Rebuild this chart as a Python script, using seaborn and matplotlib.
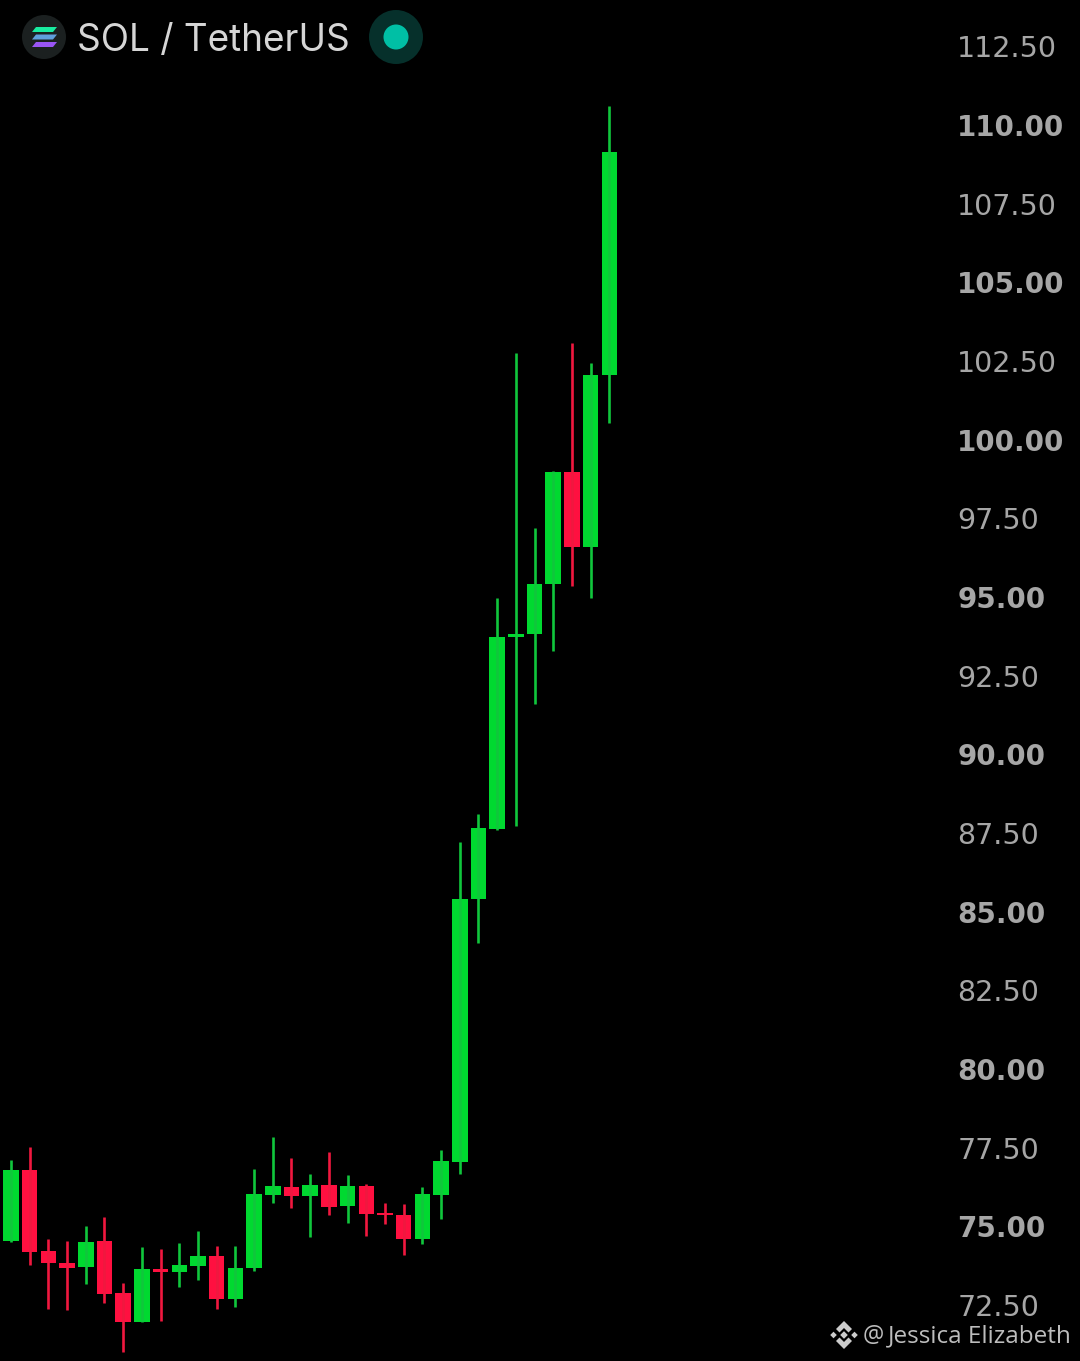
import matplotlib
matplotlib.use("Agg")
import matplotlib.pyplot as plt
from matplotlib.patches import Circle, Polygon
import numpy as np
import pandas as pd
import seaborn as sns

# candles, oldest first
opens = [74.53, 76.78, 74.23, 73.82, 73.70, 74.53, 72.88, 71.95, 73.65, 73.56, 73.75,
         74.05, 72.70, 73.67, 76.00, 76.25, 75.97, 76.31, 75.64, 76.28, 75.42, 75.37,
         74.61, 76.00, 77.04, 85.40, 87.63, 93.73, 93.82, 95.41, 98.97, 96.59, 102.05]
closes = [76.78, 74.19, 73.82, 73.68, 74.51, 72.86, 71.95, 73.63, 73.55, 73.77, 74.05,
          72.70, 73.68, 76.03, 76.29, 75.97, 76.31, 75.61, 76.28, 75.39, 75.36, 74.61,
          76.03, 77.07, 85.40, 87.66, 93.73, 93.82, 95.41, 98.97, 96.59, 102.05, 109.14]
highs = [77.11, 77.51, 74.60, 74.53, 75.01, 75.29, 73.21, 74.34, 74.28, 74.47, 74.85,
         74.36, 74.36, 76.82, 77.85, 77.17, 76.67, 77.36, 76.62, 76.34, 75.74, 75.71,
         76.24, 77.43, 87.21, 88.10, 94.97, 102.75, 97.19, 99.00, 103.07, 102.44, 110.60]
lows = [74.50, 73.77, 72.38, 72.34, 73.17, 72.57, 71.02, 71.95, 71.99, 73.07, 73.30,
        72.36, 72.45, 73.59, 75.75, 75.59, 74.65, 75.37, 75.12, 74.69, 75.06, 74.10,
        74.44, 75.22, 76.66, 84.00, 87.60, 87.72, 91.60, 93.28, 95.35, 94.97, 100.53]

tick_values = [112.5, 110, 107.5, 105, 102.5, 100, 97.5, 95, 92.5, 90, 87.5, 85, 82.5, 80, 77.5, 75, 72.5]
tick_labels = ["112.50", "110.00", "107.50", "105.00", "102.50", "100.00", "97.50", "95.00", "92.50",
               "90.00", "87.50", "85.00", "82.50", "80.00", "77.50", "75.00", "72.50"]

title = "SOL / TetherUS"
credit = "Jessica Elizabeth"

UP = "#00d930"
DOWN = "#ff1040"
UP_WICK = "#10c63c"
DOWN_WICK = "#f0183f"
LABEL = "#a6a6a6"

df = pd.DataFrame({"open": opens, "close": closes, "high": highs, "low": lows})
df["n"] = np.arange(len(df))
df["up"] = df["close"] >= df["open"]
df["bottom"] = df[["open", "close"]].min(axis=1)
df["size"] = (df["close"] - df["open"]).abs()

sns.set_theme(style="dark", rc={"figure.facecolor": "black", "axes.facecolor": "black", "axes.grid": False})

fig = plt.figure(figsize=(10.8, 13.61), dpi=100)
ax = fig.add_axes([0, 0, 1, 1])

# wicks first, bodies on top
for is_up, wick, body in [(True, UP_WICK, UP), (False, DOWN_WICK, DOWN)]:
    part = df[df["up"] == is_up]
    ax.vlines(part["n"], part["low"], part["high"], color=wick, linewidth=1.9)
    sns.barplot(x=part["n"].values, y=part["size"].values, bottom=part["bottom"].values,
                native_scale=True, width=0.83, color=body, saturation=1, errorbar=None,
                linewidth=0, ax=ax)

ax.set_xlim(-0.588, 57.17)
ax.set_ylim(70.72, 113.97)
ax.set_xticks([])
ax.set_xlabel("")
ax.set_ylabel("")
ax.set_yticks(tick_values, labels=tick_labels)
ax.tick_params(axis="y", left=False, right=False, labelleft=False, labelright=True,
               pad=-94.3, labelsize=20.5, labelcolor=LABEL)
for lab in ax.get_yticklabels():
    if float(lab.get_text()) % 5 == 0:
        lab.set_fontweight("bold")
        lab.set_fontsize(20)
    lab.set_ha("left")
sns.despine(ax=ax, left=True, bottom=True)

# header and watermark sit in a pixel overlay
top = fig.add_axes([0, 0, 1, 1], facecolor="none")
top.set_xlim(0, 1080)
top.set_ylim(1361, 0)
top.axis("off")

top.add_patch(Circle((44, 37), 22, color="#1b2020", lw=0))
for y0, c in [(27, "#19ecA0"), (34.5, "#5f9fdc"), (42, "#9a55f5")]:
    top.add_patch(Polygon([(36, y0), (57, y0), (53, y0 + 5), (32, y0 + 5)], color=c, lw=0))
top.text(77, 41, title, color="#d6d6d6", fontsize=26.6, family="Inter", va="center", ha="left")
top.add_patch(Circle((396, 37), 27, color="#06302b", lw=0))
top.add_patch(Circle((396, 37), 12.5, color="#00bfa5", lw=0))

# exchange logo
logo = "#cccccc"
cx, cy = 844, 1335
top.add_patch(Polygon([(cx, cy - 14), (cx + 8, cy - 6), (cx + 4.5, cy - 2.5), (cx, cy - 7), (cx - 4.5, cy - 2.5), (cx - 8, cy - 6)], color=logo, lw=0))
top.add_patch(Polygon([(cx, cy + 14), (cx + 8, cy + 6), (cx + 4.5, cy + 2.5), (cx, cy + 7), (cx - 4.5, cy + 2.5), (cx - 8, cy + 6)], color=logo, lw=0))
for dx in [-10.5, 0, 10.5]:
    r = 3.3 if dx else 3.8
    top.add_patch(Polygon([(cx + dx - r, cy), (cx + dx, cy - r), (cx + dx + r, cy), (cx + dx, cy + r)], color=logo, lw=0))

top.text(863, 1336, "@", color="#bdbdbd", fontsize=17, family="Open Sans", va="center", ha="left")
top.text(888, 1336, credit, color="#bdbdbd", fontsize=17.5, family="Open Sans", va="center", ha="left")

fig.savefig("out.png", dpi=100, facecolor="black")
